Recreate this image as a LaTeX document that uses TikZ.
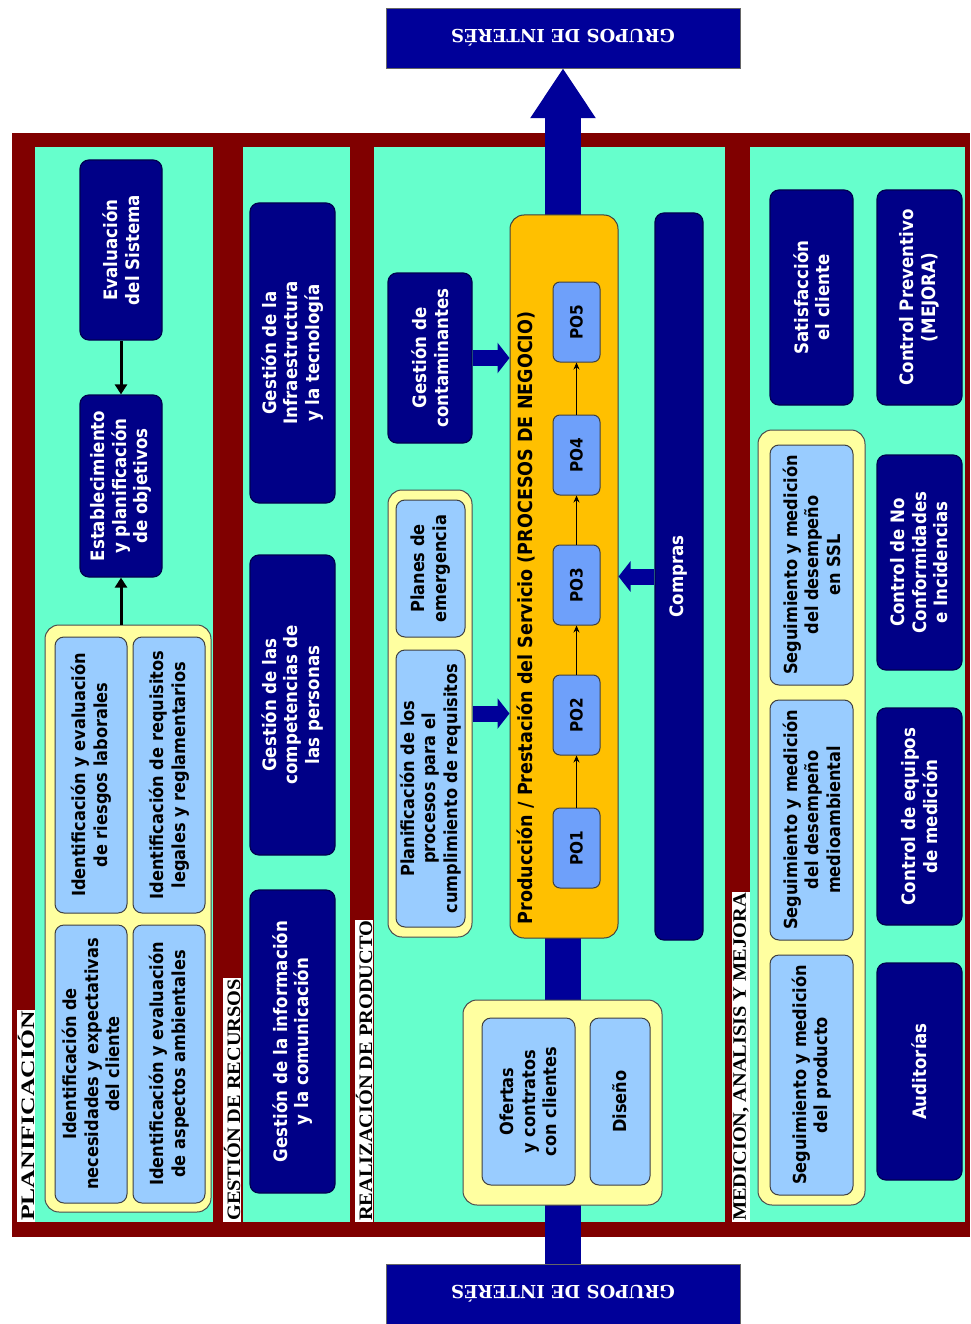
\documentclass[tikz,border=0pt]{standalone}
\usepackage{fontspec}
\setmainfont{DejaVu Sans Condensed}
\newfontfamily\titulofont[FakeStretch=1.07]{Liberation Serif}
\newfontfamily\grupofont{DejaVu Serif}
\usetikzlibrary{positioning, calc, arrows.meta}

\begin{document}
\begin{tikzpicture}[x=1pt, y=-1pt,
    caja/.style={rectangle, rotate=90, rounded corners=9pt, align=center, inner sep=2pt,
        font=\fontsize{18.5}{21.5}\selectfont\bfseries},
    oscura/.style={caja, fill=azulcaja, draw=azulborde, line width=1.2pt, text=white},
    clara/.style={caja, fill=celeste, draw=black!75, line width=1pt, text=black,
        font=\fontsize{18}{21.5}\selectfont\bfseries},
    grupo/.style={rectangle, rounded corners=14pt, fill=amarillo, draw=black!70, line width=1pt},
    seccion/.style={rotate=90, anchor=west, fill=white, inner sep=1pt,
        font=\titulofont\fontsize{19}{19}\selectfont\bfseries},
    panel/.style={fill=aguamarina},
    flecha/.style={-{Triangle[width=12pt,length=10pt]}, line width=3pt, black},
    gruesa/.style={-{Triangle[width=30pt,length=12pt]}, line width=16pt, azulflujo},
    fina/.style={-{Stealth[length=7pt,width=6pt]}, line width=1pt, black},
    interes/.style={rectangle, rotate=180, fill=azulflujo, draw=black!60, text=white,
        minimum width=354pt, minimum height=60pt, font=\grupofont\fontsize{18}{18}\selectfont\bfseries}
]
    % Colores
    \definecolor{rojo}{RGB}{128, 0, 0}
    \definecolor{aguamarina}{RGB}{102, 255, 204}
    \definecolor{azulcaja}{RGB}{0, 0, 135}
    \definecolor{azulborde}{RGB}{0, 0, 80}
    \definecolor{azulflujo}{RGB}{0, 0, 153}
    \definecolor{celeste}{RGB}{153, 204, 255}
    \definecolor{amarillo}{RGB}{255, 255, 160}
    \definecolor{naranja}{RGB}{255, 192, 0}
    \definecolor{azulpo}{RGB}{110, 160, 250}

    \useasboundingbox (0,0) rectangle (970,1324);
    \fill[white] (0,0) rectangle (970,1324);

    % 1. Marco y paneles
    \fill[rojo] (12,133) rectangle (970,1237);
    \fill[panel] (35,147) rectangle (213,1222);
    \fill[panel] (243,147) rectangle (350,1222);
    \fill[panel] (374,147) rectangle (725,1222);
    \fill[panel] (750,147) rectangle (965,1222);

    \node[seccion] (lblplan) at (26,1222) {\addfontfeature{FakeStretch=1.35}PLANIFICACIÓN};
    \node[seccion] (lblrec) at (232,1222) {GESTIÓN DE RECURSOS};
    \node[seccion] (lblreal) at (364,1222) {REALIZACIÓN DE PRODUCTO};
    \node[seccion] (lblmed) at (741,1222) {MEDICION, ANALISIS Y MEJORA};

    % 2. Grupos de interés y flujo central
    \node[interes] (gtop) at (563,38) {GRUPOS DE INTERÉS};
    \node[interes] (gbot) at (563,1294) {GRUPOS DE INTERÉS};
    \draw[line width=36pt, azulflujo, -{Triangle[width=62pt,length=50pt]}] (gbot.south) -- (gtop.north);

    % 3. Planificación
    \node[oscura, minimum width=180pt, minimum height=82pt] (eval) at (121,250) {Evaluación\\del Sistema};
    \node[oscura, minimum width=182pt, minimum height=82pt] (estab) at (121,486) {Establecimiento\\y planificación\\de objetivos};
    \node[grupo, minimum width=166pt, minimum height=587pt] (grp1) at (128,918.5) {};
    \node[clara, minimum width=276pt, minimum height=72pt] (riesgos) at (91,775) {Identificación y evaluación\\de riesgos laborales};
    \node[clara, minimum width=276pt, minimum height=72pt] (requisitos) at (169,775) {Identificación de requisitos\\legales y reglamentarios};
    \node[clara, minimum width=278pt, minimum height=72pt] (necesidades) at (91,1064) {Identificación de\\necesidades y expectativas\\del cliente};
    \node[clara, minimum width=278pt, minimum height=72pt] (aspectos) at (169,1064) {Identificación y evaluación\\de aspectos ambientales};
    \draw[flecha] (eval.west) -- (estab.east);
    \draw[flecha] (grp1.north -| estab) -- (estab.west);

    % 4. Gestión de recursos
    \node[oscura, minimum width=300pt, minimum height=85pt] (infra) at (292.5,353) {Gestión de la\\Infraestructura\\y la tecnología};
    \node[oscura, minimum width=300pt, minimum height=85pt] (compet) at (292.5,705) {Gestión de las\\competencias de\\las personas};
    \node[oscura, minimum width=303pt, minimum height=85pt] (info) at (292.5,1041.5) {Gestión de la información\\y la comunicación};

    % 5. Realización de producto
    \node[oscura, minimum width=170pt, minimum height=84pt] (contam) at (430,358) {Gestión de\\contaminantes};
    \node[grupo, minimum width=84pt, minimum height=447pt] (grpplan) at (430,713.5) {};
    \node[clara, minimum width=137pt, minimum height=69pt] (planes) at (430.5,568.5) {Planes de\\emergencia};
    \node[clara, minimum width=277pt, minimum height=69pt] (planif) at (430.5,788.5) {Planificación de los\\procesos para el\\cumplimiento de requisitos};

    \node[caja, fill=naranja, draw=black!75, line width=1pt, minimum width=723pt, minimum height=108pt, rounded corners=14pt] (prod) at (564,576.5) {};
    \node[rotate=90, anchor=west, font=\fontsize{19.5}{19.5}\selectfont\bfseries] (prodtit) at (526,928) {Producción / Prestación del Servicio (PROCESOS DE NEGOCIO)};
    \foreach \n/\yc in {1/848, 2/715, 3/585, 4/455, 5/322} {
        \node[caja, fill=azulpo, draw=black!75, line width=1pt, minimum width=80pt, minimum height=47pt, rounded corners=7pt,
            font=\fontsize{17}{17}\selectfont\bfseries] (p\n) at (576.5,\yc) {PO\n};
    }
    \foreach \a/\b in {1/2, 2/3, 3/4, 4/5} {
        \draw[fina] (p\a.east) -- (p\b.west);
    }

    \node[oscura, minimum width=727pt, minimum height=48pt] (compras) at (679,576.5) {Compras};
    \node[grupo, minimum width=199pt, minimum height=205pt] (grpofer) at (562.5,1102.5) {};
    \node[clara, minimum width=167pt, minimum height=93pt] (ofertas) at (528.5,1101.5) {Ofertas\\y contratos\\con clientes};
    \node[clara, minimum width=167pt, minimum height=60pt] (diseno) at (620,1101.5) {Diseño};

    \draw[gruesa] (contam.south) -- (contam.south -| prod.north);
    \draw[gruesa] (grpplan.east) -- (grpplan.east -| prod.north);
    \draw[gruesa] (compras.north) -- (compras.north -| prod.south);

    % 6. Medición, análisis y mejora
    \node[oscura, minimum width=215pt, minimum height=83pt] (satisf) at (811.5,297.5) {Satisfacción\\el cliente};
    \node[oscura, minimum width=215pt, minimum height=85pt] (preven) at (919.5,297.5) {Control Preventivo\\(MEJORA)};
    \node[grupo, minimum width=107pt, minimum height=775pt] (grpseg) at (811.5,817.5) {};
    \node[clara, minimum width=240pt, minimum height=83pt] (ssl) at (811.5,565) {Seguimiento y medición\\del desempeño\\en SSL};
    \node[clara, minimum width=240pt, minimum height=83pt] (medio) at (811.5,820) {Seguimiento y medición\\del desempeño\\medioambiental};
    \node[clara, minimum width=240pt, minimum height=83pt] (producto) at (811.5,1075) {Seguimiento y medición\\del producto};
    \node[oscura, minimum width=215pt, minimum height=85pt] (noconf) at (919.5,562.5) {Control de No\\Conformidades\\e Incidencias};
    \node[oscura, minimum width=217pt, minimum height=85pt] (equipos) at (919.5,816.5) {Control de equipos\\de medición};
    \node[oscura, minimum width=217pt, minimum height=85pt] (audit) at (919.5,1071.5) {Auditorías};

\end{tikzpicture}
\end{document}
